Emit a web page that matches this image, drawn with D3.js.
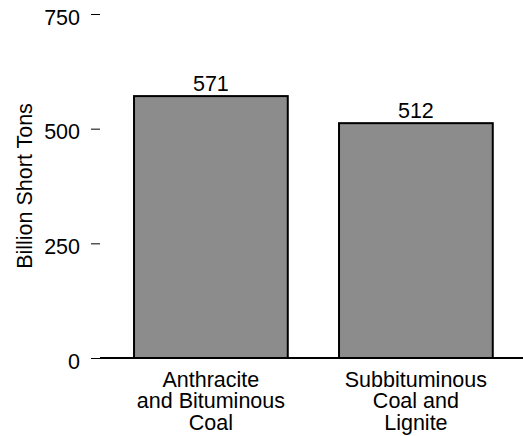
<!DOCTYPE html>
<html>
<head>
<meta charset="utf-8">
<script src="https://cdn.jsdelivr.net/npm/d3@7/dist/d3.min.js"></script>
<style>
  html, body { margin: 0; padding: 0; background: #fff; }
  svg { display: block; }
  text { font-family: "Liberation Sans", Arial, Helvetica, sans-serif; fill: #000; }
</style>
</head>
<body>
<svg id="chart" width="523" height="436"></svg>
<script>
const categories = [["Anthracite", "and Bituminous", "Coal"], ["Subbituminous", "Coal and", "Lignite"]];
const categoryKeys = ["Anthracite and Bituminous Coal", "Subbituminous Coal and Lignite"];
const values = [571, 512];
const tickValues = [0, 250, 500, 750];
const yTitle = "Billion Short Tons";

const W = 523, H = 436;
const svg = d3.select("#chart");
const fontSize = 21.5;

const y = d3.scaleLinear().domain([0, 750]).range([358, 14]);
const x = d3.scaleBand().domain(categoryKeys).range([108.4, 518.4]).paddingInner(0.25).paddingOuter(0.125);

// y axis (ticks only)
const yAxis = d3.axisLeft(y).tickValues(tickValues).tickSize(9).tickPadding(11).tickFormat(d3.format("d"));
const gy = svg.append("g").attr("transform", "translate(100,0)").call(yAxis);
gy.select(".domain").remove();
gy.selectAll(".tick line").attr("stroke", "#000").attr("stroke-width", 1);
gy.selectAll(".tick text")
  .attr("font-size", fontSize)
  .attr("font-family", "Liberation Sans, Arial, sans-serif")
  .attr("fill", "#000")
  .attr("dy", 10);

// y title
svg.append("text")
  .attr("transform", `translate(32,${(y(0) + y(750)) / 2}) rotate(-90)`)
  .attr("text-anchor", "middle")
  .attr("font-size", fontSize)
  .text(yTitle);

// bars
svg.selectAll("rect.bar").data(values).enter().append("rect")
  .attr("class", "bar")
  .attr("x", (d, i) => x(categoryKeys[i]))
  .attr("y", d => y(d))
  .attr("width", x.bandwidth())
  .attr("height", d => y(0) - y(d))
  .attr("fill", "#8c8c8c")
  .attr("stroke", "#000")
  .attr("stroke-width", 2);

// baseline
svg.append("line")
  .attr("x1", 100).attr("x2", W)
  .attr("y1", y(0)).attr("y2", y(0))
  .attr("stroke", "#000").attr("stroke-width", 2);

// value labels
svg.selectAll("text.val").data(values).enter().append("text")
  .attr("class", "val")
  .attr("x", (d, i) => x(categoryKeys[i]) + x.bandwidth() / 2)
  .attr("y", d => y(d) - 5)
  .attr("text-anchor", "middle")
  .attr("font-size", fontSize)
  .text(d => d);

// category labels
const cl = svg.selectAll("text.cat").data(categories).enter().append("text")
  .attr("class", "cat")
  .attr("text-anchor", "middle")
  .attr("font-size", fontSize)
  .attr("x", (d, i) => x(categoryKeys[i]) + x.bandwidth() / 2)
  .attr("y", 386.7);
cl.selectAll("tspan").data(d => d).enter().append("tspan")
  .attr("x", function() { return d3.select(this.parentNode).attr("x"); })
  .attr("dy", (d, i) => i === 0 ? 0 : 21.7)
  .text(d => d);
</script>
</body>
</html>
